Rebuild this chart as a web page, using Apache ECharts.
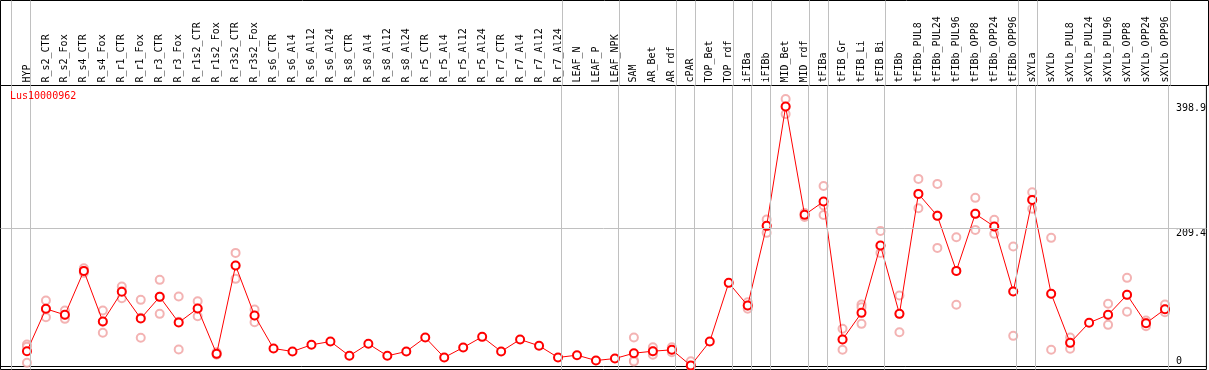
<!DOCTYPE html>
<html>
<head>
<meta charset="utf-8">
<script src="https://cdn.jsdelivr.net/npm/echarts@6/dist/echarts.min.js"></script>
<style>
  html, body { margin: 0; padding: 0; background: #fff; }
  #chart { width: 1209px; height: 370px; }
</style>
</head>
<body>
<div id="chart"></div>
<script>
// conditions (top labels)
const categories = [
  'HYP', 'R_s2_CTR', 'R_s2_Fox', 'R_s4_CTR', 'R_s4_Fox', 'R_r1_CTR', 'R_r1_Fox', 'R_r3_CTR', 'R_r3_Fox',
  'R_r1s2_CTR', 'R_r1s2_Fox', 'R_r3s2_CTR', 'R_r3s2_Fox', 'R_s6_CTR', 'R_s6_Al4', 'R_s6_Al12', 'R_s6_Al24',
  'R_s8_CTR', 'R_s8_Al4', 'R_s8_Al12', 'R_s8_Al24', 'R_r5_CTR', 'R_r5_Al4', 'R_r5_Al12', 'R_r5_Al24',
  'R_r7_CTR', 'R_r7_Al4', 'R_r7_Al12', 'R_r7_Al24', 'LEAF_N', 'LEAF_P', 'LEAF_NPK', 'SAM', 'AR_Bet', 'AR_rdf',
  'cPAR', 'TOP_Bet', 'TOP_rdf', 'iFIBa', 'iFIBb', 'MID_Bet', 'MID_rdf', 'tFIBa', 'tFIB_Gr', 'tFIB_Li', 'tFIB_Bi',
  'tFIBb', 'tFIBb_PUL8', 'tFIBb_PUL24', 'tFIBb_PUL96', 'tFIBb_OPP8', 'tFIBb_OPP24', 'tFIBb_OPP96',
  'sXYLa', 'sXYLb', 'sXYLb_PUL8', 'sXYLb_PUL24', 'sXYLb_PUL96', 'sXYLb_OPP8', 'sXYLb_OPP24', 'sXYLb_OPP96'
]

// mean expression
const meanValues = [
  23.2, 87.5, 78.4, 145.1, 68.3, 113.3, 72.8, 105.7, 66.7, 88.0, 19.2, 153.2, 77.4, 27.3, 22.8, 32.9, 37.9,
  16.2, 34.4, 16.2, 22.8, 44.0, 13.7, 28.8, 45.0, 22.8, 41.0, 31.4, 13.7, 17.2, 9.1, 12.1, 20.2, 23.2, 25.3,
  1.5, 37.9, 126.9, 92.5, 213.4, 394.4, 230.1, 250.3, 41.0, 81.4, 183.5, 79.9, 261.9, 228.6, 145.1, 231.6,
  212.4, 113.8, 252.8, 110.3, 35.9, 66.3, 78.4, 108.7, 65.7, 86.9
]

// replicates (null = hidden behind the mean marker)
const repHigh = [
  33.4, 100.1, 84.9, 149.1, 84.9, 121.3, 101.1, 131.5, 106.2, 99, 21.7, 172.4, 86.5,
  null, null, null, null, null, null, null, null, null, null, null, null, null, null, null, null, null, null, null,
  44, 29.3, 29.3, 8, null, null,
  97.5, 223, 406, 233, 274, 57.2, 94, 205.8, 107.7, 284.7, 277.1, 196.2, 255.9, 222.5, 182, 264.4, 195.2, 44,
  null, 95.1, 134.5, 69.8, 94
]
const repLow = [
  5.6, 74.8, 72.3, 142.1, 51.1, 103.6, 43.5, 79.9, 25.8, 76.3, 17.7, 133, 67.2,
  null, null, null, null, null, null, null, null, null, null, null, null, null, null, null, null, null, null, null,
  9, 17.7, 21.7, 0.5, null, null,
  87.5, 202.8, 383, 227, 230, 25.3, 64.7, 172.4, 52, 240.1, 180, 93.6, 207.3, 201.3, 46.5, 239.2, 25.3, 26.8,
  null, 63.2, 83, 61.2, 82.4
]
const repMid = [
  30, 87, 78, 145, 68, 114, 74, 106, 68, 88, 19, 153, 77,
  null, null, null, null, null, null, null, null, null, null, null, null, null, null, null, null, null, null, null,
  7.6, 23, 25, null, null, null,
  92, 213, 394, null, 244.2, 41, 90, 183, 80, 262, 229, 145, 232, 212, 114, 253, 110, 36,
  null, 78, 109, 66, 87
]

// index of the first condition of each group (61 = end)
const groupStarts = [0, 1, 29, 32, 35, 36, 38, 39, 40, 42, 43, 46, 53, 54, 61]
const yTickLabels = [209.4, 398.9]
const yZeroLabel = [0]
const geneName = 'Lus10000962'

const font = 'DejaVu Sans Mono'
const toPoints = arr => arr.map((v, i) => [i, v]).filter(p => p[1] !== null)
const labelIdx = categories.map((c, i) => i)
const X_MIN = -1.3947
const X_MAX = 62.184

const chart = echarts.init(document.getElementById('chart'))

const yBase = {
  type: 'value',
  gridIndex: 0,
  position: 'right',
  offset: -30.5,
  min: -4.552,
  max: 426.4,
  axisLine: { show: false },
  axisTick: { show: false },
  splitLine: { show: false }
}

const groupLines = {
  silent: true,
  symbol: ['none', 'none'],
  label: { show: false },
  lineStyle: { color: '#c0c0c0', width: 1, type: 'solid' },
  emphasis: { disabled: true },
  data: groupStarts.map(s => ({ xAxis: s - 0.816 }))
}

chart.setOption({
  animation: false,
  title: {
    text: geneName,
    left: 10,
    top: 91,
    padding: 0,
    textStyle: { color: '#ff0000', fontSize: 10, fontFamily: font, fontWeight: 'normal' }
  },
  grid: [
    // plot
    { left: 0.5, right: 0.5, top: 85.5, bottom: 0.5, show: true, borderColor: '#000', borderWidth: 1 },
    // header with the condition names
    { left: 0.5, right: 0.5, top: 0.5, height: 85, show: true, borderColor: '#000', borderWidth: 1 }
  ],
  xAxis: [
    {
      type: 'value',
      gridIndex: 0,
      position: 'top',
      min: X_MIN,
      max: X_MAX,
      axisLine: { show: true, lineStyle: { color: '#000', width: 1 } },
      axisTick: { show: false },
      splitLine: { show: false },
      axisLabel: {
        customValues: labelIdx,
        rotate: 90,
        margin: 3,
        fontSize: 10,
        fontFamily: font,
        color: '#000',
        formatter: v => categories[v] || ''
      }
    },
    {
      type: 'value',
      gridIndex: 1,
      min: X_MIN,
      max: X_MAX,
      show: false
    }
  ],
  yAxis: [
    Object.assign({}, yBase, {
      axisLabel: {
        customValues: yTickLabels,
        margin: 0,
        verticalAlign: 'top',
        fontSize: 10,
        fontFamily: font,
        color: '#000'
      }
    }),
    Object.assign({}, yBase, {
      axisLabel: {
        customValues: yZeroLabel,
        margin: 0,
        verticalAlign: 'bottom',
        fontSize: 10,
        fontFamily: font,
        color: '#000'
      }
    }),
    { type: 'value', gridIndex: 1, min: 0, max: 1, show: false }
  ],
  series: [
    {
      name: 'header lines',
      type: 'line',
      xAxisIndex: 1,
      yAxisIndex: 2,
      data: [],
      markLine: groupLines
    },
    {
      name: 'replicates',
      type: 'scatter',
      xAxisIndex: 0,
      yAxisIndex: 0,
      z: 2,
      symbol: 'emptyCircle',
      symbolSize: 8,
      itemStyle: { color: '#f0a0a0', borderWidth: 1 },
      emphasis: { disabled: true },
      data: [].concat(toPoints(repHigh), toPoints(repLow), toPoints(repMid)),
      markLine: Object.assign({}, groupLines, {
        data: groupLines.data.concat([{ yAxis: yTickLabels[0] }])
      })
    },
    {
      name: 'mean',
      type: 'line',
      xAxisIndex: 0,
      yAxisIndex: 0,
      z: 3,
      symbol: 'emptyCircle',
      symbolSize: 8,
      lineStyle: { color: '#ff0000', width: 1 },
      itemStyle: { color: '#ff0000', borderWidth: 1.2 },
      emphasis: { disabled: true },
      data: toPoints(meanValues)
    }
  ]
})
</script>
</body>
</html>
